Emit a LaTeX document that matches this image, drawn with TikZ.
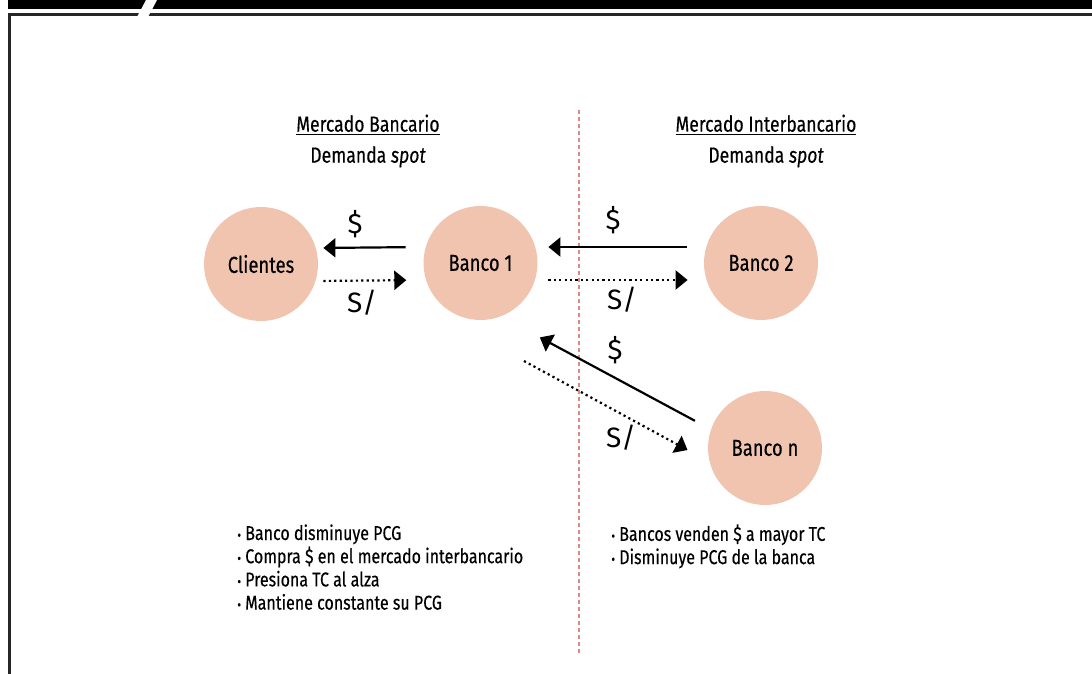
\documentclass[tikz,border=0pt]{standalone}
\usepackage{fontspec}
\setmainfont[FakeStretch=0.8, FakeBold=0.35]{Fira Sans}
\newfontfamily\monedafont{Fira Sans}
\usetikzlibrary{
    arrows.meta,
    calc,
    positioning
}
\definecolor{salmon}{RGB}{241,196,176}
\definecolor{rojizo}{RGB}{222,135,135}
\tikzset{banco/.style={circle, minimum size=57pt, inner sep=0pt, fill=salmon, font=\fontsize{11.5}{13}\selectfont}}
\tikzset{pago/.style={line width=1.1pt, -{Triangle[length=6pt, width=9.5pt]}}}
\tikzset{soles/.style={pago, dash pattern=on 1.1pt off 1.6pt}}
\tikzset{moneda/.style={font=\monedafont\fontsize{14}{16}\selectfont}}
\tikzset{titulo/.style={align=center, font=\fontsize{11}{15.5}\selectfont}}
\tikzset{lista/.style={anchor=north west, inner sep=0pt, align=left, font=\fontsize{10}{11.6}\selectfont}}
\tikzset{corte/.style={rojizo, line width=0.8pt, dash pattern=on 2pt off 1.5pt}}

\begin{document}
\begin{tikzpicture}[x=0.5pt, y=-0.5pt]
                        \useasboundingbox (0, 0) rectangle (1092, 674);
                        \fill (8, 0) rectangle (1092, 9);
                        \draw[line width=1.5pt, black!85] (9.5, 674) -- (9.5, 14.5) -- (1092, 14.5);
                        \fill[white] (146, 0) -- (157, 0) -- (148, 17) -- (137, 17) -- cycle;
                        \draw[corte] (579, 110) -- (579, 655);

                        \node[titulo] (tb) at (368, 141) {\underline{Mercado Bancario}\\Demanda \textit{spot}};
                        \node[titulo] (ti) at (766, 141) {\underline{Mercado Interbancario}\\Demanda \textit{spot}};

                        \node[banco] (cl) at (261, 264) {Clientes};
                        \node[banco] (b1) at (480.5, 263) {Banco 1};
                        \node[banco] (b2) at (761, 263) {Banco 2};
                        \node[banco] (bn) at (765, 448) {Banco n};
                        \coordinate (sd) at (524, 361);

                        \draw[pago, shorten <=8.75pt, shorten >=2.5pt] ([yshift=8pt]b1.west) -- ([yshift=8pt]cl.east);
                        \draw[soles, shorten <=2.5pt, shorten >=8.4pt] ([yshift=-8.5pt]cl.east) -- ([yshift=-8.5pt]b1.west);
                        \draw[pago, shorten <=8.5pt, shorten >=5.25pt] ([yshift=8pt]b2.west) -- ([yshift=8pt]b1.east);
                        \draw[soles, shorten <=5.25pt, shorten >=8pt] ([yshift=-8.5pt]b1.east) -- ([yshift=-8.5pt]b2.west);
                        \draw[pago, shorten <=9pt, shorten >=22pt] (bn.161) -- (b1.291);
                        \draw[soles, shorten >=12.4pt] (sd) -- (bn.194);

                        \node[moneda] (d1) at (355, 224) {\$};
                        \node[moneda] (s1) at (362, 303) {S/};
                        \node[moneda] (d2) at (613, 220) {\$};
                        \node[moneda] (s2) at (622, 300) {S/};
                        \node[moneda] (d3) at (615, 350) {\$};
                        \node[moneda] (s3) at (621, 438) {S/};

                        \node[lista] (li) at (237, 524) {{\scriptsize\textbullet} Banco disminuye PCG\\{\scriptsize\textbullet} Compra \$ en el mercado interbancario\\{\scriptsize\textbullet} Presiona TC al alza\\{\scriptsize\textbullet} Mantiene constante su PCG};
                        \node[lista] (ld) at (611, 524) {{\scriptsize\textbullet} Bancos venden \$ a mayor TC\\{\scriptsize\textbullet} Disminuye PCG de la banca};
                    \end{tikzpicture}
\end{document}
